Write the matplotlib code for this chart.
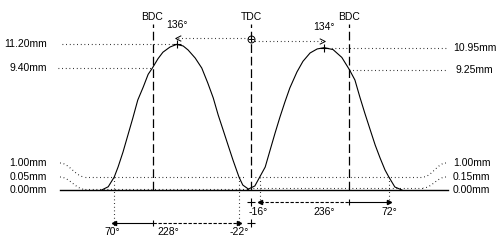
import numpy as np
import matplotlib.pyplot as plt
from matplotlib.path import Path

# valve lift: crank angle (deg, 0 = TDC) and lift (mm)
exh_deg = [-273, -261, -250, -243, -234, -225, -216, -207, -197, -188, -180,
           -170, -161, -148, -136, -124, -115, -102, -90, -79, -69, -60, -51,
           -42, -33, -22, -15, -5]
exh_lift = [0.0, 0.25, 1.0, 1.77, 2.92, 4.23, 5.54, 6.92, 7.92, 8.9, 9.4,
            10.1, 10.6, 11.0, 11.2, 11.08, 10.77, 10.15, 9.38, 8.23, 7.08,
            5.77, 4.62, 3.46, 2.31, 1.0, 0.38, 0.08]

int_deg = [-6, -2, 7, 16, 26, 35, 44, 53, 62, 71, 84, 95, 108, 121, 134, 150,
           166, 180, 190, 199, 208, 218, 227, 236, 245, 252, 263, 276]
int_lift = [0.02, 0.13, 0.31, 1.0, 1.77, 3.08, 4.38, 5.62, 6.77, 7.85, 9.08,
            9.9, 10.54, 10.85, 10.95, 10.8, 10.2, 9.25, 8.46, 7.15, 5.92, 4.62,
            3.46, 2.46, 1.54, 1.0, 0.23, 0.0]

# timing figures
exh_peak_deg, exh_peak_lift, exh_bdc_lift = -136, 11.20, 9.40
int_peak_deg, int_peak_lift, int_bdc_lift = 134, 10.95, 9.25
exh_open, exh_close, exh_dur = 70, -22, 228
int_open, int_close, int_dur = -16, 72, 236
check_lift = 1.00
exh_zero, int_zero = 0.05, 0.15

PX = 0.547   # px per degree
PY = 13.0    # px per mm


def gx(p):
    return (p - 251) / PX


def gy(p):
    return (190 - p) / PY


fig = plt.figure(figsize=(5, 2.4), dpi=100)
ax = fig.add_axes([0, 0, 1, 1])
ax.set_xlim(gx(0), gx(500))
ax.set_ylim(gy(240), gy(0))
ax.axis("off")

plt.rcParams["font.family"] = ["Liberation Sans", "DejaVu Sans"]
fs = 7.5
dot = (0, (0.7, 2.6))
k = "black"

# lift curves and baseline
ax.plot(exh_deg, exh_lift, color=k, lw=0.8)
ax.plot(int_deg, int_lift, color=k, lw=0.8)
ax.plot([gx(60), gx(448)], [0, 0], color=k, lw=1.0)

# BDC / TDC dashed verticals
bdc1, bdc2 = -180, 180
for xd, lab in [(bdc1, "BDC"), (0, "TDC"), (bdc2, "BDC")]:
    ax.plot([xd, xd], [0, gy(24)], color=k, lw=0.9, ls=(0, (7, 3)))
    ax.text(xd, gy(17), lab, ha="center", va="center", fontsize=fs)

# peaks
ax.plot(exh_peak_deg, exh_peak_lift, "+", color=k, ms=6, mew=0.8)
ax.plot(int_peak_deg, int_peak_lift, "+", color=k, ms=6, mew=0.8)
ax.text(exh_peak_deg, gy(24.5), f"{-exh_peak_deg}°", ha="center", va="center", fontsize=fs)
ax.text(int_peak_deg, gy(27.5), f"{int_peak_deg}°", ha="center", va="center", fontsize=fs)

# peak-to-TDC dotted arrows
chev_l = Path([(1, 1), (-1, 0), (1, -1)], [Path.MOVETO, Path.LINETO, Path.LINETO])
chev_r = Path([(-1, 1), (1, 0), (-1, -1)], [Path.MOVETO, Path.LINETO, Path.LINETO])
ya = exh_peak_lift + 0.5
yb = int_peak_lift + 0.5
ax.plot([exh_peak_deg + 3, 0], [ya, ya], color=k, lw=0.8, ls=dot)
ax.plot([0, int_peak_deg - 4], [yb, yb], color=k, lw=0.8, ls=dot)
ax.plot(exh_peak_deg + 3, ya, marker=chev_l, ms=4, color=k, mew=0.7, fillstyle="none")
ax.plot(int_peak_deg - 4, yb, marker=chev_r, ms=4, color=k, mew=0.7, fillstyle="none")
ax.plot(0, gy(39), "o", ms=5, color=k, mew=0.7, fillstyle="none")
ax.plot(0, gy(39), "+", ms=4.5, color=k, mew=0.7)

# lift reference lines and labels
ax.plot([gx(62), exh_peak_deg], [exh_peak_lift] * 2, color=k, lw=0.8, ls=dot)
ax.plot([gx(58), bdc1], [exh_bdc_lift] * 2, color=k, lw=0.8, ls=dot)
ax.plot([int_peak_deg, gx(447)], [int_peak_lift] * 2, color=k, lw=0.8, ls=dot)
ax.plot([bdc2, gx(448)], [int_bdc_lift] * 2, color=k, lw=0.8, ls=dot)
ax.text(gx(47), exh_peak_lift, f"{exh_peak_lift:.2f}mm", ha="right", va="center", fontsize=fs)
ax.text(gx(47), exh_bdc_lift, f"{exh_bdc_lift:.2f}mm", ha="right", va="center", fontsize=fs)
ax.text(gx(453), int_peak_lift, f"{int_peak_lift:.2f}mm", ha="left", va="center", fontsize=fs)
ax.text(gx(455), int_bdc_lift, f"{int_bdc_lift:.2f}mm", ha="left", va="center", fontsize=fs)

# small-lift labels with leader curves
t = np.linspace(0, 1, 30)
s = (1 - np.cos(np.pi * t)) / 2
rows = [gy(163), gy(177), gy(190)]
for side, zero in [(-1, exh_zero), (1, int_zero)]:
    xa = gx(60) if side < 0 else gx(446)
    xb = gx(85) if side < 0 else gx(423)
    for lab_y, lvl in [(rows[0], check_lift), (rows[1], zero)]:
        ax.plot(xa + (xb - xa) * t, lab_y + (lvl - lab_y) * s, color=k, lw=0.8, ls=dot)
    labs = [check_lift, zero, 0.0]
    for ry, v in zip(rows, labs):
        if side < 0:
            ax.text(gx(47), ry, f"{v:.2f}mm", ha="right", va="center", fontsize=fs)
        else:
            ax.text(gx(453), ry, f"{v:.2f}mm", ha="left", va="center", fontsize=fs)

# horizontal check lines across each lobe
ax.plot([gx(85), -12], [check_lift] * 2, color=k, lw=0.8, ls=dot)
ax.plot([gx(85), -8], [exh_zero] * 2, color=k, lw=0.8, ls=dot)
ax.plot([8, gx(423)], [check_lift] * 2, color=k, lw=0.8, ls=dot)
ax.plot([4, gx(423)], [int_zero] * 2, color=k, lw=0.8, ls=dot)

# timing dimension lines
e_open = bdc1 - exh_open
e_close = exh_close
i_open = -int_open
i_close = bdc2 + int_close
ye, yi = gy(223), gy(202)

ax.plot([e_open, e_open], [check_lift, ye - 0.2], color=k, lw=0.8, ls=dot)
ax.plot([e_close, e_close], [check_lift, ye - 0.2], color=k, lw=0.8, ls=dot)
ax.plot([i_open, i_open], [check_lift, yi - 0.2], color=k, lw=0.8, ls=dot)
ax.plot([i_close, i_close], [check_lift, yi - 0.2], color=k, lw=0.8, ls=dot)

ax.plot([e_open, bdc1], [ye, ye], color=k, lw=0.8)
ax.plot([bdc1, e_close], [ye, ye], color=k, lw=0.8, ls=(0, (3, 1.5)))
ax.plot([i_open, bdc2], [yi, yi], color=k, lw=0.8, ls=(0, (3, 1.5)))
ax.plot([bdc2, i_close], [yi, yi], color=k, lw=0.8)
ax.plot(e_open, ye, "<", color=k, ms=3)
ax.plot(e_close, ye, ">", color=k, ms=3)
ax.plot(i_open, yi, "<", color=k, ms=3)
ax.plot(i_close, yi, ">", color=k, ms=3)
ax.plot([bdc1, bdc2], [ye, yi], "|", color=k, ms=5, mew=0.8)
ax.plot([0, 0], [ye, yi], "+", color=k, ms=6, mew=0.8)

ax.text(e_open - 3, gy(232), f"{exh_open}°", ha="center", va="center", fontsize=fs)
ax.text((e_open + e_close) / 2 - 15, gy(232), f"{exh_dur}°", ha="center", va="center", fontsize=fs)
ax.text(e_close, gy(232), f"{exh_close}°", ha="center", va="center", fontsize=fs)
ax.text(i_open - 3, gy(212), f"{int_open}°", ha="center", va="center", fontsize=fs)
ax.text((i_open + i_close) / 2, gy(212), f"{int_dur}°", ha="center", va="center", fontsize=fs)
ax.text(i_close, gy(212), f"{int_close}°", ha="center", va="center", fontsize=fs)

fig.savefig("out.png", dpi=100)
